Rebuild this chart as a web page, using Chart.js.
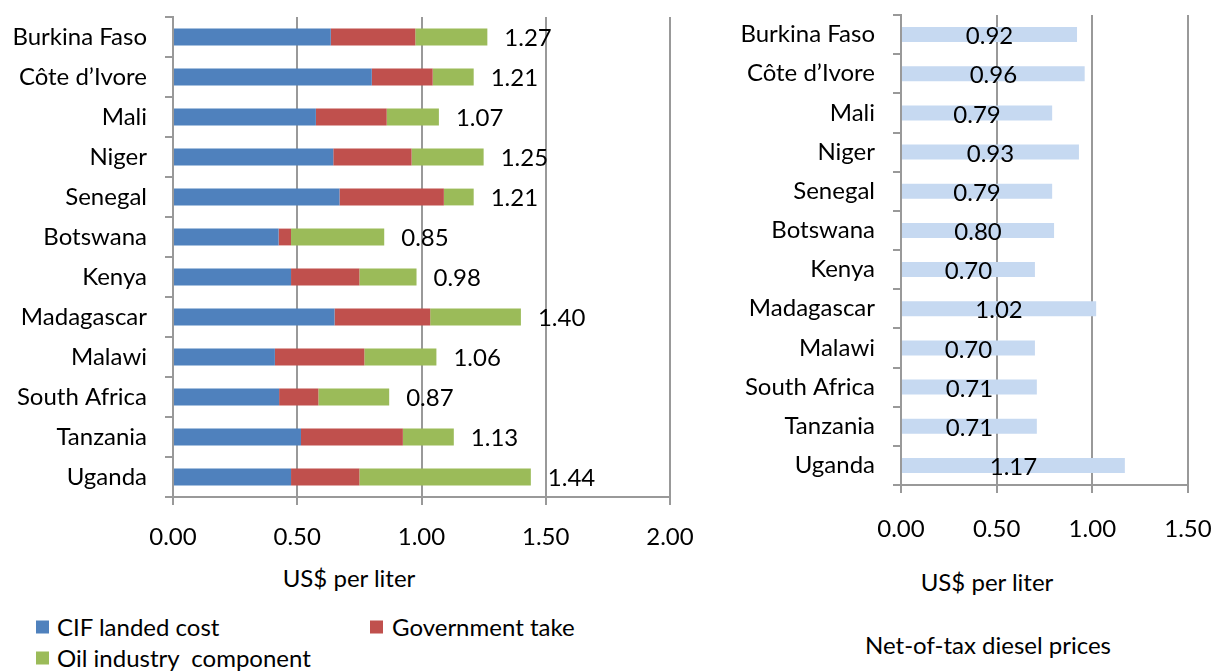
<!DOCTYPE html>
<html><head><meta charset="utf-8">
<script src="https://cdn.jsdelivr.net/npm/chart.js@4.4.1/dist/chart.umd.min.js"></script>
<style>
html,body{margin:0;padding:0;background:#fff;width:1219px;height:671px;overflow:hidden;font-family:Lato, sans-serif;}
#c1{position:absolute;left:0;top:0;}
#c2{position:absolute;left:700px;top:0;}
.t{position:absolute;font-size:24px;color:#000;white-space:pre;line-height:1;transform:translate(-50%,-50%);}
.lg{position:absolute;font-size:24px;color:#000;white-space:pre;line-height:1;transform:translateY(-50%);}
.sq{position:absolute;width:13px;height:13px;transform:translateY(-50%);}
</style></head>
<body>
<canvas id="c1" width="700" height="560"></canvas>
<canvas id="c2" width="519" height="560"></canvas>
<div class="t" style="left:349px;top:578px">US$ per liter</div>
<div class="t" style="left:987px;top:582px">US$ per liter</div>
<div class="t" style="left:988px;top:645px">Net-of-tax diesel prices</div>
<div class="sq" style="left:36px;top:627px;background:#4f81bd"></div>
<div class="lg" style="left:57px;top:627px">CIF landed cost</div>
<div class="sq" style="left:370px;top:627px;background:#c0504d"></div>
<div class="lg" style="left:392px;top:627px">Government take</div>
<div class="sq" style="left:36px;top:658px;background:#9bbb59"></div>
<div class="lg" style="left:57px;top:658px">Oil industry  component</div>
<script>
// ---- data ----
const countries = ["Burkina Faso","Côte d’Ivore","Mali","Niger","Senegal","Botswana","Kenya","Madagascar","Malawi","South Africa","Tanzania","Uganda"];
const cifLandedCost   = [0.635,0.800,0.575,0.645,0.670,0.425,0.475,0.650,0.410,0.427,0.515,0.475];
const governmentTake  = [0.340,0.245,0.285,0.315,0.420,0.050,0.275,0.385,0.360,0.158,0.410,0.275];
const oilIndustry     = [0.290,0.165,0.210,0.290,0.120,0.375,0.230,0.365,0.290,0.285,0.205,0.690];
const totalLabels     = ["1.27","1.21","1.07","1.25","1.21","0.85","0.98","1.40","1.06","0.87","1.13","1.44"];
const netOfTaxPrices  = [0.92,0.96,0.79,0.93,0.79,0.80,0.70,1.02,0.70,0.71,0.71,1.17];
const leftTicks  = [0, 0.5, 1.0, 1.5, 2.0];
const rightTicks = [0, 0.5, 1.0, 1.5];

const FONT = 'Lato';
const FS = 24;
const GRID = '#999999';

const valueLabels = {
  id: 'valueLabels',
  afterDatasetsDraw(chart, args, opts) {
    const ctx = chart.ctx;
    ctx.save();
    ctx.font = opts.size + 'px ' + FONT;
    ctx.fillStyle = '#000';
    ctx.textBaseline = 'middle';
    const meta = chart.getDatasetMeta(opts.datasetIndex);
    meta.data.forEach((bar, i) => {
      const text = opts.labels[i];
      if (opts.mode === 'end') {
        ctx.textAlign = 'left';
        ctx.fillText(text, bar.x + opts.dx, bar.y + opts.dy);
      } else {
        ctx.textAlign = 'center';
        ctx.fillText(text, (bar.x + bar.base) / 2, bar.y + opts.dy);
      }
    });
    ctx.restore();
  }
};

function xScale(max, ticks, pad, h) {
  return {
    type: 'linear', min: 0, max: max, stacked: true,
    afterBuildTicks: s => { s.ticks = ticks.map(v => ({value: v})); },
    afterFit: s => { s.height = h; s.paddingLeft = 0; s.paddingRight = 0; },
    ticks: { callback: v => Number(v).toFixed(2), color: '#000', font: {family: FONT, size: FS}, padding: pad, maxRotation: 0 },
    grid: { color: GRID, lineWidth: 2, tickLength: 8, drawTicks: true },
    border: { color: GRID, width: 2 }
  };
}
function yScale(w) {
  return {
    type: 'category', stacked: true, offset: true,
    afterFit: s => { s.width = w; s.paddingTop = 0; s.paddingBottom = 0; },
    ticks: { color: '#000', font: {family: FONT, size: FS}, padding: 18, autoSkip: false },
    grid: { drawOnChartArea: false, color: GRID, lineWidth: 2, tickLength: 8, offset: true },
    border: { color: GRID, width: 2 }
  };
}

new Chart(document.getElementById('c1'), {
  type: 'bar',
  data: {
    labels: countries,
    datasets: [
      { label: 'CIF landed cost', data: cifLandedCost, backgroundColor: '#4f81bd' },
      { label: 'Government take', data: governmentTake, backgroundColor: '#c0504d' },
      { label: 'Oil industry  component', data: oilIndustry, backgroundColor: '#9bbb59' }
    ]
  },
  options: {
    indexAxis: 'y', responsive: false, animation: false,
    datasets: { bar: { categoryPercentage: 1, barPercentage: 0.42 } },
    layout: { padding: { left: 0, right: 30, top: 17, bottom: 0 } },
    scales: { x: xScale(2, leftTicks, 18, 63), y: yScale(173) },
    plugins: {
      legend: { display: false }, tooltip: { enabled: false },
      valueLabels: { datasetIndex: 2, labels: totalLabels, mode: 'end', dx: 17, dy: 1, size: FS }
    }
  },
  plugins: [valueLabels]
});

new Chart(document.getElementById('c2'), {
  type: 'bar',
  data: {
    labels: countries,
    datasets: [
      { label: 'Net-of-tax diesel prices', data: netOfTaxPrices, backgroundColor: '#c6d9f1' }
    ]
  },
  options: {
    indexAxis: 'y', responsive: false, animation: false,
    datasets: { bar: { categoryPercentage: 1, barPercentage: 0.385 } },
    layout: { padding: { left: 0, right: 31, top: 15, bottom: 0 } },
    scales: { x: xScale(1.5, rightTicks, 22, 75), y: yScale(201) },
    plugins: {
      legend: { display: false }, tooltip: { enabled: false },
      valueLabels: { datasetIndex: 0, labels: netOfTaxPrices.map(v => v.toFixed(2)), mode: 'center', dy: 2, size: FS }
    }
  },
  plugins: [valueLabels]
});
</script>
</body></html>
